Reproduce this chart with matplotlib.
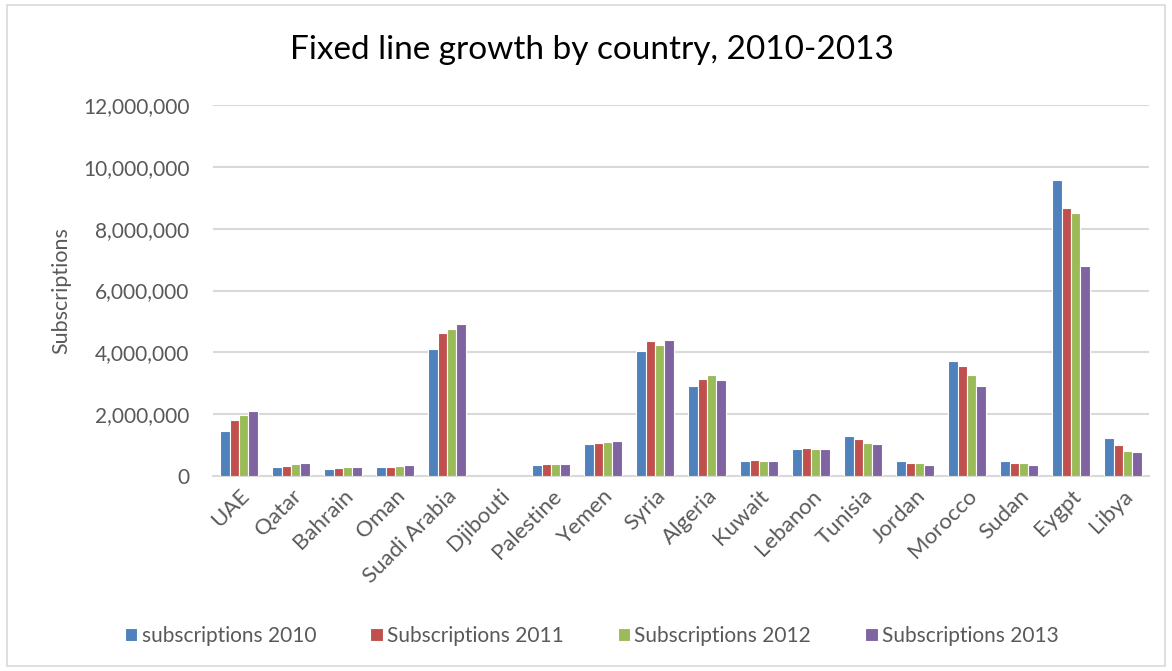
import numpy as np
import matplotlib
matplotlib.use("Agg")
import matplotlib.pyplot as plt
from matplotlib.patches import Rectangle
from matplotlib.ticker import FuncFormatter

# Fixed line subscriptions per country
countries = ["UAE", "Qatar", "Bahrain", "Oman", "Suadi Arabia", "Djibouti",
             "Palestine", "Yemen", "Syria", "Algeria", "Kuwait", "Lebanon",
             "Tunisia", "Jordan", "Morocco", "Sudan", "Eygpt", "Libya"]

subs_2010 = [1450000, 290000, 230000, 280000, 4110000, 0,
             370000, 1030000, 4040000, 2900000, 500000, 880000,
             1280000, 470000, 3730000, 490000, 9560000, 1230000]
subs_2011 = [1820000, 310000, 250000, 290000, 4610000, 0,
             380000, 1060000, 4360000, 3130000, 530000, 900000,
             1210000, 420000, 3560000, 410000, 8670000, 1010000]
subs_2012 = [1970000, 390000, 300000, 310000, 4770000, 0,
             390000, 1100000, 4230000, 3280000, 490000, 860000,
             1080000, 430000, 3280000, 420000, 8520000, 820000]
subs_2013 = [2090000, 410000, 290000, 350000, 4930000, 0,
             400000, 1140000, 4400000, 3110000, 490000, 860000,
             1020000, 370000, 2910000, 370000, 6780000, 790000]

series_labels = ["subscriptions 2010", "Subscriptions 2011",
                 "Subscriptions 2012", "Subscriptions 2013"]
colors = ["#4F81BD", "#C0504D", "#9BBB59", "#8064A2"]

plt.rcParams["font.family"] = ["Lato", "DejaVu Sans"]
text_gray = "#595959"
grid_gray = "#D9D9D9"

fig = plt.figure(figsize=(11.72, 6.71), dpi=100)
ax = fig.add_axes([213 / 1172, 1 - 476 / 671, 936 / 1172, 371 / 671])

x = np.arange(len(countries))
bar_w = 0.18
all_series = [subs_2010, subs_2011, subs_2012, subs_2013]
for i, (vals, col, lab) in enumerate(zip(all_series, colors, series_labels)):
    ax.bar(x + (i - 1.5) * bar_w, vals, width=bar_w, color=col,
           edgecolor="white", linewidth=0.8, label=lab, zorder=3)

ax.set_xlim(-0.5, len(countries) - 0.5)
ax.set_ylim(0, 12000000)
ax.set_yticks(np.arange(0, 12000001, 2000000))
ax.yaxis.set_major_formatter(FuncFormatter(lambda v, p: f"{int(v):,}"))
ax.yaxis.grid(True, color=grid_gray, linewidth=1.5, zorder=0)
ax.set_axisbelow(True)

for side in ["top", "right", "left"]:
    ax.spines[side].set_visible(False)
ax.spines["bottom"].set_color(grid_gray)
ax.spines["bottom"].set_linewidth(1.5)

ax.tick_params(axis="both", length=0, labelsize=15, colors=text_gray)
ax.tick_params(axis="y", pad=17)
ax.set_xticks(x)
ax.set_xticklabels(countries, rotation=45, ha="right", rotation_mode="anchor",
                   fontsize=16)
ax.tick_params(axis="x", pad=7)

ax.set_ylabel("Subscriptions", fontsize=15.5, color=text_gray, labelpad=8)

fig.text(0.505, 0.926, "Fixed line growth by country, 2010-2013",
         ha="center", va="center", fontsize=24, color="black")

fig.legend(loc="center", bbox_to_anchor=(0.505, 0.052), ncol=4, frameon=False,
           fontsize=15, labelcolor=text_gray, handlelength=0.6,
           handleheight=0.6, handletextpad=0.2, columnspacing=2.6)

# light frame around the whole chart
fig.patches.append(Rectangle((7 / 1172, 5 / 671), 1158 / 1172, 661 / 671,
                             transform=fig.transFigure, fill=False,
                             edgecolor=grid_gray, linewidth=1.2))

fig.savefig("out.png", dpi=100)
